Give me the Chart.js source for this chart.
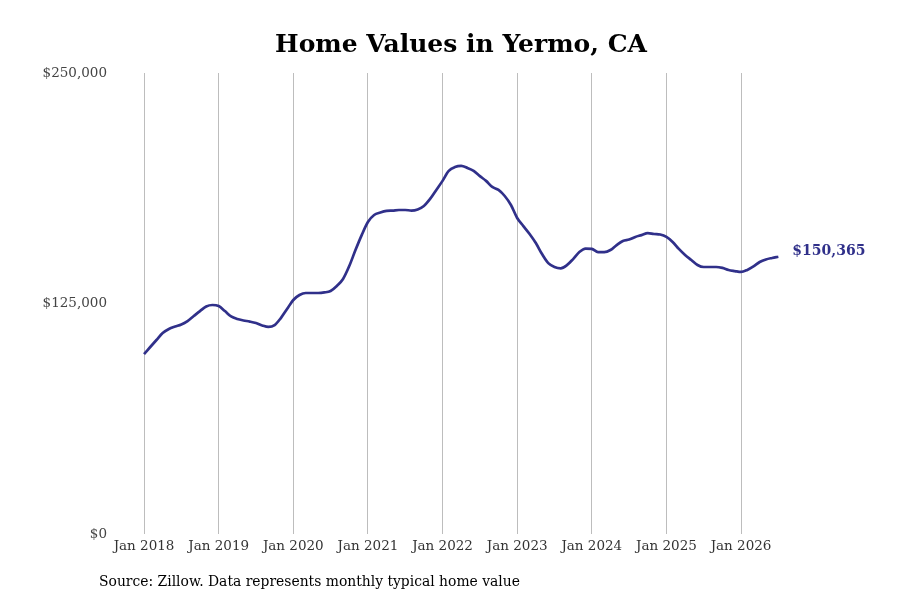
<!DOCTYPE html>
<html>
<head>
  <title>Home Values in Yermo, CA</title>
  <script src="https://cdn.jsdelivr.net/npm/chart.js"></script>
  <style>
    body {
      margin: 0;
      background: #fff;
    }
    canvas {
      display: block;
    }
  </style>
</head>
<body>
  <canvas id="homeChart" width="900" height="600"></canvas>

  <script>
    // Monthly typical home value, Jan 2018 .. Jul 2026
    const startYear = 2018;
    const v2018 = [97600, 101400, 105200, 109000, 111200, 112500, 113600, 115500, 118200, 120900, 123400, 124200];
    const v2019 = [123600, 120900, 118000, 116600, 115800, 115200, 114400, 113100, 112300, 113300, 117100, 122000];
    const v2020 = [126900, 129600, 130700, 130700, 130700, 131000, 131800, 134500, 138300, 145300, 154000, 162100];
    const v2021 = [169200, 173000, 174300, 175200, 175400, 175700, 175700, 175400, 176000, 177900, 181700, 186600];
    const v2022 = [191500, 196900, 199000, 199600, 198500, 196900, 194100, 191500, 188200, 186600, 183300, 178400];
    const v2023 = [171400, 167000, 162700, 157800, 151800, 146900, 144800, 144100, 145800, 149100, 152900, 154800];
    const v2024 = [154600, 152900, 152900, 154000, 156700, 158900, 159700, 161100, 162100, 163200, 162700, 162400];
    const v2025 = [161100, 158400, 154600, 151300, 148600, 145900, 144800, 144800, 144800, 144300, 143200, 142600];
    const v2026 = [142100, 143200, 145100, 147500, 148900, 149700, 150365];

    const values = [].concat(v2018, v2019, v2020, v2021, v2022, v2023, v2024, v2025, v2026);
    const yearTicks = [2018, 2019, 2020, 2021, 2022, 2023, 2024, 2025, 2026];
    const valueTicks = [0, 125000, 250000];

    const lineColor = '#30308a';
    const serif = "'DejaVu Serif', serif";

    // points as {x: month index, y: value}
    const points = values.map((v, i) => ({ x: i, y: v }));

    const money = v => '$' + v.toLocaleString('en-US');

    // label after the last point + source line under the chart
    const extras = {
      id: 'extras',
      afterDatasetsDraw(chart) {
        const ctx = chart.ctx;
        const meta = chart.getDatasetMeta(0);
        const last = meta.data[meta.data.length - 1];
        ctx.save();
        ctx.font = 'bold 14px ' + serif;
        ctx.fillStyle = lineColor;
        ctx.textBaseline = 'middle';
        ctx.fillText(money(values[values.length - 1]), last.x + 14, last.y - 5);

        ctx.font = '13.9px ' + serif;
        ctx.fillStyle = '#000';
        ctx.fillText('Source: Zillow. Data represents monthly typical home value', 99, 582);
        ctx.restore();
      }
    };

    const ctx = document.getElementById('homeChart').getContext('2d');
    new Chart(ctx, {
      type: 'line',
      data: {
        datasets: [{
          data: points,
          borderColor: lineColor,
          borderWidth: 2.7,
          pointRadius: 0,
          tension: 0.4,
          cubicInterpolationMode: 'monotone',
          fill: false
        }]
      },
      options: {
        responsive: false,
        animation: false,
        layout: { padding: { left: 22, right: 0, top: 0, bottom: 0 } },
        plugins: {
          legend: { display: false },
          tooltip: { enabled: false },
          title: {
            display: true,
            text: 'Home Values in Yermo, CA',
            color: '#000',
            font: { family: serif, size: 25, weight: 'bold' },
            padding: { top: 30, bottom: 13 }
          }
        },
        scales: {
          x: {
            type: 'linear',
            min: -5.15,
            max: 121.56,
            afterFit(scale) { scale.height = 66; },
            afterBuildTicks(scale) {
              scale.ticks = yearTicks.map(y => ({ value: (y - startYear) * 12 }));
            },
            ticks: {
              color: '#333',
              padding: 4,
              maxRotation: 0,
              autoSkip: false,
              font: { family: serif, size: 13.5 },
              callback: v => 'Jan ' + (startYear + v / 12)
            },
            grid: { display: true, color: '#bdbdbd', lineWidth: 1, drawTicks: false },
            border: { display: false }
          },
          y: {
            min: 0,
            max: 250000,
            afterFit(scale) { scale.width = 90; },
            afterBuildTicks(scale) {
              scale.ticks = valueTicks.map(v => ({ value: v }));
            },
            ticks: {
              color: '#444',
              padding: 5,
              font: { family: serif, size: 13.5 },
              callback: v => money(v)
            },
            grid: { display: false, drawTicks: false },
            border: { display: false }
          }
        }
      },
      plugins: [extras]
    });
  </script>
</body>
</html>
